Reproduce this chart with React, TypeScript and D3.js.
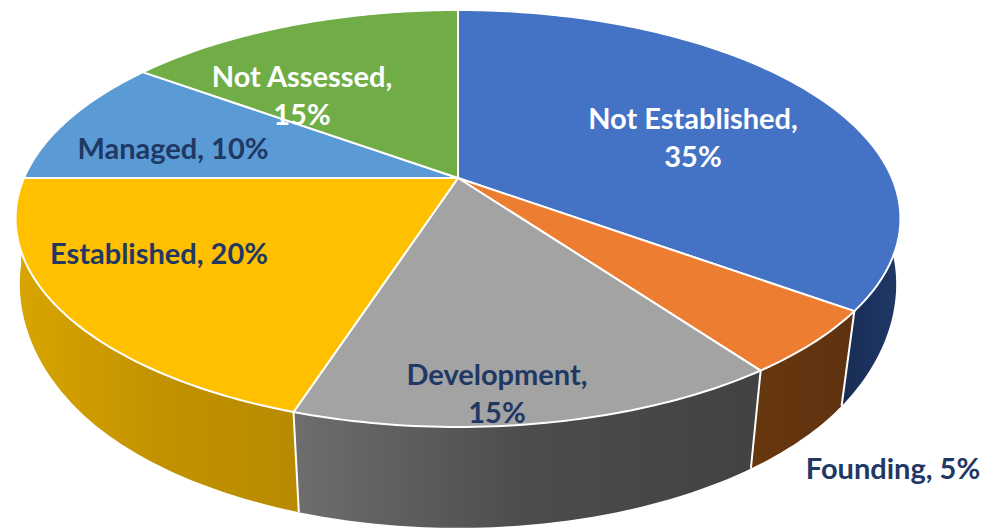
import React from "react";
import * as d3 from "d3";

// Share of each maturity level, clockwise from twelve o'clock
const categories = ["Not Established", "Founding", "Development", "Established", "Managed", "Not Assessed"];
const shares = [35, 5, 15, 20, 10, 15];
const faceColors = ["#4472c4", "#ed7d31", "#a3a3a3", "#ffc000", "#5b9bd5", "#70ad47"];
const wallStops = [
  ["#172c50", "#1c3360", "#1f3864"],
  ["#67370f", "#63340f", "#5f3210"],
  ["#6e6e6e", "#4c4c4c", "#424242"],
  ["#d8a500", "#c39200", "#b88a00"],
  null,
  null,
];

const NAVY = "#1f3864";
const WHITE = "#ffffff";

type Label = { lines: string[]; x: number; y: number; fill: string };
const labels: Label[] = [
  { lines: ["Not Established,", "35%"], x: 693, y: 129, fill: WHITE },
  { lines: ["Founding, 5%"], x: 893, y: 479, fill: NAVY },
  { lines: ["Development,", "15%"], x: 497, y: 385, fill: NAVY },
  { lines: ["Established, 20%"], x: 159, y: 264, fill: NAVY },
  { lines: ["Managed, 10%"], x: 173, y: 159, fill: NAVY },
  { lines: ["Not Assessed,", "15%"], x: 302, y: 87, fill: WHITE },
];

// Perspective projection of a unit circle lying on a tilted plane
const TILT = 0.1942;
const topRing = { cx: 458, cy: 178, a: 434, b: 200.6, flare: 0 };
const bottomRing = { cx: 458, cy: 266, a: 420, b: 211, flare: 17 };
type Ring = typeof topRing;

function project(theta: number, ring: Ring): [number, number] {
  const u = Math.sin(theta);
  const v = -Math.cos(theta);
  const d = 1 - TILT * v;
  // The lower rim bulges a little towards the sides of the disc
  const side = Math.max(0, 1 - v / 0.6);
  const a = ring.a + ring.flare * side * side;
  return [ring.cx + (a * u) / d, ring.cy + (ring.b * v) / d];
}

const arcs = d3.pie<number>().sort(null).value((d) => d)(shares);
const toPath = d3.line<[number, number]>();

function samples(start: number, end: number): number[] {
  const n = Math.max(2, Math.ceil((end - start) * 60));
  return d3.range(n + 1).map((i) => start + ((end - start) * i) / n);
}

function facePath(start: number, end: number): string {
  const rim = samples(start, end).map((t) => project(t, topRing));
  return toPath([[topRing.cx, topRing.cy], ...rim]) + "Z";
}

// The wall is a run of small quads so that its silhouette follows both rims
function wallPath(start: number, end: number): string {
  const ts = samples(start, end);
  return d3
    .pairs(ts)
    .map(
      ([a, b]) =>
        toPath([project(a, topRing), project(b, topRing), project(b, bottomRing), project(a, bottomRing)]) + "Z"
    )
    .join("");
}

const WALL_FROM = (75 * Math.PI) / 180;
const walls = arcs
  .map((arc, i) => ({ i, start: Math.max(arc.startAngle, WALL_FROM), end: arc.endAngle, stops: wallStops[i] }))
  .filter((w) => w.stops);

function wallXRange(start: number, end: number): [number, number] {
  const xs = samples(start, end).flatMap((t) => [project(t, topRing)[0], project(t, bottomRing)[0]]);
  return d3.extent(xs) as [number, number];
}

// Wall seams sit at the slice boundaries on the visible front of the pie
const seams = arcs.map((a) => a.endAngle).filter((t) => t > WALL_FROM && t < (260 * Math.PI) / 180);

export default function App() {
  return (
    <svg
      width={986}
      height={530}
      viewBox="0 0 986 530"
      style={{ position: "absolute", left: 0, top: 0, display: "block", background: "#fff" }}
    >
      <defs>
        {walls.map((w) => {
          const [x1, x2] = wallXRange(w.start, w.end);
          const stops = w.stops as string[];
          return (
            <linearGradient key={w.i} id={`wall-${w.i}`} gradientUnits="userSpaceOnUse" x1={x1} x2={x2} y1={0} y2={0}>
              {stops.map((c, k) => (
                <stop key={k} offset={`${(k / (stops.length - 1)) * 100}%`} stopColor={c} />
              ))}
            </linearGradient>
          );
        })}
      </defs>

      {walls.map((w) => (
        <path key={w.i} d={wallPath(w.start, w.end)} fill={`url(#wall-${w.i})`} stroke="none" />
      ))}
      {seams.map((t) => (
        <path
          key={t}
          d={toPath([project(t, topRing), project(t, bottomRing)]) as string}
          stroke="#fff"
          strokeWidth={2}
          fill="none"
        />
      ))}

      {arcs.map((arc, i) => (
        <path
          key={categories[i]}
          d={facePath(arc.startAngle, arc.endAngle)}
          fill={faceColors[i]}
          stroke="#fff"
          strokeWidth={2}
          strokeLinejoin="round"
        />
      ))}

      {labels.map((l) => (
        <text
          key={l.lines[0]}
          textAnchor="middle"
          fontFamily="Lato, 'Open Sans', sans-serif"
          fontWeight={700}
          fontSize={29}
          fill={l.fill}
        >
          {l.lines.map((line, k) => (
            <tspan key={line} x={l.x} y={l.y + k * 38}>
              {line}
            </tspan>
          ))}
        </text>
      ))}
    </svg>
  );
}
